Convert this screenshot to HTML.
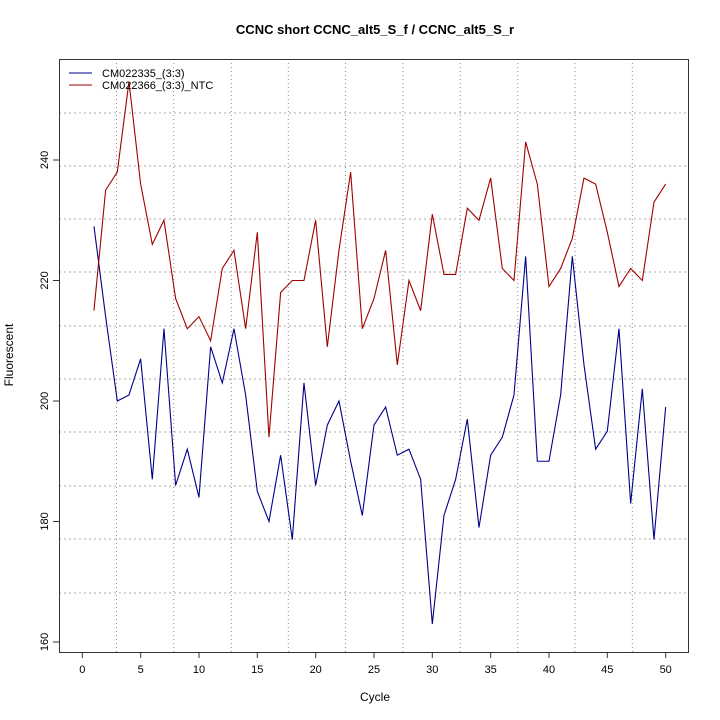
<!DOCTYPE html>
<html><head><style>body{margin:0;background:#fff}svg{display:block}</style></head><body>
<svg width="720" height="720" xmlns="http://www.w3.org/2000/svg" font-family="Liberation Sans, sans-serif">
<rect width="720" height="720" fill="#fff"/>
<g stroke="#aaa" stroke-width="1" stroke-dasharray="2,3">
<line x1="59" x2="688" y1="113" y2="113"/><line x1="59" x2="688" y1="166" y2="166"/><line x1="59" x2="688" y1="219" y2="219"/><line x1="59" x2="688" y1="272" y2="272"/><line x1="59" x2="688" y1="326" y2="326"/><line x1="59" x2="688" y1="379" y2="379"/><line x1="59" x2="688" y1="432" y2="432"/><line x1="59" x2="688" y1="486" y2="486"/><line x1="59" x2="688" y1="539" y2="539"/><line x1="59" x2="688" y1="593" y2="593"/>
</g>
<g stroke="#888" stroke-width="1" stroke-dasharray="1,3">
<line y1="59" y2="652" x1="116.5" x2="116.5"/><line y1="59" y2="652" x1="173.7" x2="173.7"/><line y1="59" y2="652" x1="231.3" x2="231.3"/><line y1="59" y2="652" x1="288.3" x2="288.3"/><line y1="59" y2="652" x1="345.5" x2="345.5"/><line y1="59" y2="652" x1="403" x2="403"/><line y1="59" y2="652" x1="460.3" x2="460.3"/><line y1="59" y2="652" x1="517.7" x2="517.7"/><line y1="59" y2="652" x1="575" x2="575"/><line y1="59" y2="652" x1="632.3" x2="632.3"/>
</g>
<rect x="59.5" y="59.5" width="629" height="593" fill="none" stroke="#333" stroke-width="1"/>
<g transform="translate(82.3,642) scale(11.667,-6.025) translate(0,-160)" fill="none" stroke-width="1.1">
<polyline vector-effect="non-scaling-stroke" stroke="#00008B" points="1,229 2,214 3,200 4,201 5,207 6,187 7,212 8,186 9,192 10,184 11,209 12,203 13,212 14,201 15,185 16,180 17,191 18,177 19,203 20,186 21,196 22,200 23,190 24,181 25,196 26,199 27,191 28,192 29,187 30,163 31,181 32,187 33,197 34,179 35,191 36,194 37,201 38,224 39,190 40,190 41,201 42,224 43,206 44,192 45,195 46,212 47,183 48,202 49,177 50,199"/>
<polyline vector-effect="non-scaling-stroke" stroke="#A00000" points="1,215 2,235 3,238 4,253 5,236 6,226 7,230 8,217 9,212 10,214 11,210 12,222 13,225 14,212 15,228 16,194 17,218 18,220 19,220 20,230 21,209 22,225 23,238 24,212 25,217 26,225 27,206 28,220 29,215 30,231 31,221 32,221 33,232 34,230 35,237 36,222 37,220 38,243 39,236 40,219 41,222 42,227 43,237 44,236 45,228 46,219 47,222 48,220 49,233 50,236"/>
</g>
<g stroke="#333">
<line x1="82.3" x2="82.3" y1="652" y2="658"/><line x1="140.7" x2="140.7" y1="652" y2="658"/><line x1="199" x2="199" y1="652" y2="658"/><line x1="257.3" x2="257.3" y1="652" y2="658"/><line x1="315.7" x2="315.7" y1="652" y2="658"/><line x1="374" x2="374" y1="652" y2="658"/><line x1="432.3" x2="432.3" y1="652" y2="658"/><line x1="490.7" x2="490.7" y1="652" y2="658"/><line x1="549" x2="549" y1="652" y2="658"/><line x1="607.3" x2="607.3" y1="652" y2="658"/><line x1="665.7" x2="665.7" y1="652" y2="658"/>
<line x1="53" x2="59" y1="642" y2="642"/><line x1="53" x2="59" y1="521.5" y2="521.5"/><line x1="53" x2="59" y1="401" y2="401"/><line x1="53" x2="59" y1="280.5" y2="280.5"/><line x1="53" x2="59" y1="160" y2="160"/>
</g>
<g font-size="11" fill="#000" text-anchor="middle">
<text x="82.3" y="673">0</text><text x="140.7" y="673">5</text><text x="199" y="673">10</text><text x="257.3" y="673">15</text><text x="315.7" y="673">20</text><text x="374" y="673">25</text><text x="432.3" y="673">30</text><text x="490.7" y="673">35</text><text x="549" y="673">40</text><text x="607.3" y="673">45</text><text x="665.7" y="673">50</text>
<text transform="translate(48,642) rotate(-90)">160</text><text transform="translate(48,521.5) rotate(-90)">180</text><text transform="translate(48,401) rotate(-90)">200</text><text transform="translate(48,280.5) rotate(-90)">220</text><text transform="translate(48,160) rotate(-90)">240</text>
<text x="375" y="701" font-size="12">Cycle</text>
<text transform="translate(13,355) rotate(-90)" font-size="12">Fluorescent</text>
<text x="375" y="34" font-size="13" font-weight="bold">CCNC short CCNC_alt5_S_f / CCNC_alt5_S_r</text>
</g>
<line x1="69" x2="92" y1="73" y2="73" stroke="#00008B"/>
<line x1="69" x2="92" y1="85" y2="85" stroke="#A00000"/>
<text x="102" y="77" font-size="11">CM022335_(3:3)</text>
<text x="102" y="89" font-size="11">CM022366_(3:3)_NTC</text>
</svg>
</body></html>
